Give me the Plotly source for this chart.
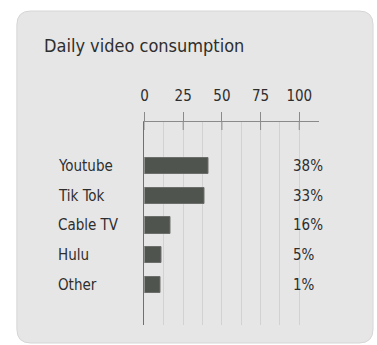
import plotly.graph_objects as go

W, H = 377, 345

categories = ["Youtube", "Tik Tok", "Cable TV", "Hulu", "Other"]
bar_values = [41.6, 39, 16.6, 10.9, 10.2]
pct_labels = ["38%", "33%", "16%", "5%", "1%"]
tick_values = [0, 25, 50, 75, 100]
tick_labels = ["0", "25", "50", "75", "100"]
title_text = "Daily video consumption"

FONT = "DejaVu Sans Condensed, sans-serif"
TXT = "#2e2e2e"


def px(x):
    return x / W


def py(y):
    return 1 - y / H


def rounded_rect(x0, y0, x1, y1, r):
    pts = [
        f"M {px(x0 + r)} {py(y0)}",
        f"L {px(x1 - r)} {py(y0)}",
        f"Q {px(x1)} {py(y0)} {px(x1)} {py(y0 + r)}",
        f"L {px(x1)} {py(y1 - r)}",
        f"Q {px(x1)} {py(y1)} {px(x1 - r)} {py(y1)}",
        f"L {px(x0 + r)} {py(y1)}",
        f"Q {px(x0)} {py(y1)} {px(x0)} {py(y1 - r)}",
        f"L {px(x0)} {py(y0 + r)}",
        f"Q {px(x0)} {py(y0)} {px(x0 + r)} {py(y0)}",
        "Z",
    ]
    return " ".join(pts)


fig = go.Figure()
fig.add_trace(go.Bar(
    x=bar_values,
    y=categories,
    orientation="h",
    width=0.54,
    marker=dict(color="#50544f", line=dict(color="#6b6e6a", width=1)),
    hoverinfo="skip",
))

shapes = [
    dict(type="path", xref="paper", yref="paper",
         path=rounded_rect(13, 11, 373, 343, 14),
         fillcolor="#e6e6e6", line=dict(color="#d6d6d6", width=1), layer="below"),
]
# lower half of the crossing tick marks
for tv in tick_values:
    shapes.append(dict(type="line", xref="x", yref="paper",
                       x0=tv, x1=tv, y0=py(122), y1=py(130),
                       line=dict(color="#8a8a8a", width=1), layer="above"))

annotations = [
    dict(text=title_text, xref="paper", yref="paper", x=px(38), y=py(45),
         xanchor="left", yanchor="middle", showarrow=False,
         font=dict(family=FONT, size=18, color=TXT)),
]
for c, p in zip(categories, pct_labels):
    annotations.append(dict(text=c, xref="paper", yref="y", x=px(53), y=c,
                            xanchor="left", yanchor="middle", showarrow=False,
                            font=dict(family=FONT, size=15, color=TXT)))
    annotations.append(dict(text=p, xref="paper", yref="y", x=px(290), y=c,
                            xanchor="left", yanchor="middle", showarrow=False,
                            font=dict(family=FONT, size=15, color=TXT)))

fig.update_layout(
    width=W, height=H,
    margin=dict(l=0, r=0, t=0, b=0),
    paper_bgcolor="white",
    plot_bgcolor="rgba(0,0,0,0)",
    showlegend=False,
    shapes=shapes,
    annotations=annotations,
    bargap=0,
    xaxis=dict(
        domain=[px(142), px(318)],
        range=[0, 112.5],
        side="top",
        tickvals=tick_values,
        ticktext=tick_labels,
        ticks="outside", ticklen=9, tickcolor="#8a8a8a", tickwidth=1,
        ticklabelstandoff=5,
        tickfont=dict(family=FONT, size=15, color=TXT),
        showline=True, linecolor="#8a8a8a", linewidth=1,
        showgrid=True, gridcolor="#d2d2d2", gridwidth=1,
        minor=dict(dtick=12.5, tick0=0, showgrid=True, gridcolor="#d2d2d2", gridwidth=1),
        zeroline=False,
        fixedrange=True,
    ),
    yaxis=dict(
        domain=[py(325), py(122)],
        range=[5.345, -1.479],
        showticklabels=False,
        ticks="",
        showgrid=False,
        showline=True, linecolor="#707070", linewidth=1,
        zeroline=False,
        fixedrange=True,
    ),
)

fig.write_html("out.html")
